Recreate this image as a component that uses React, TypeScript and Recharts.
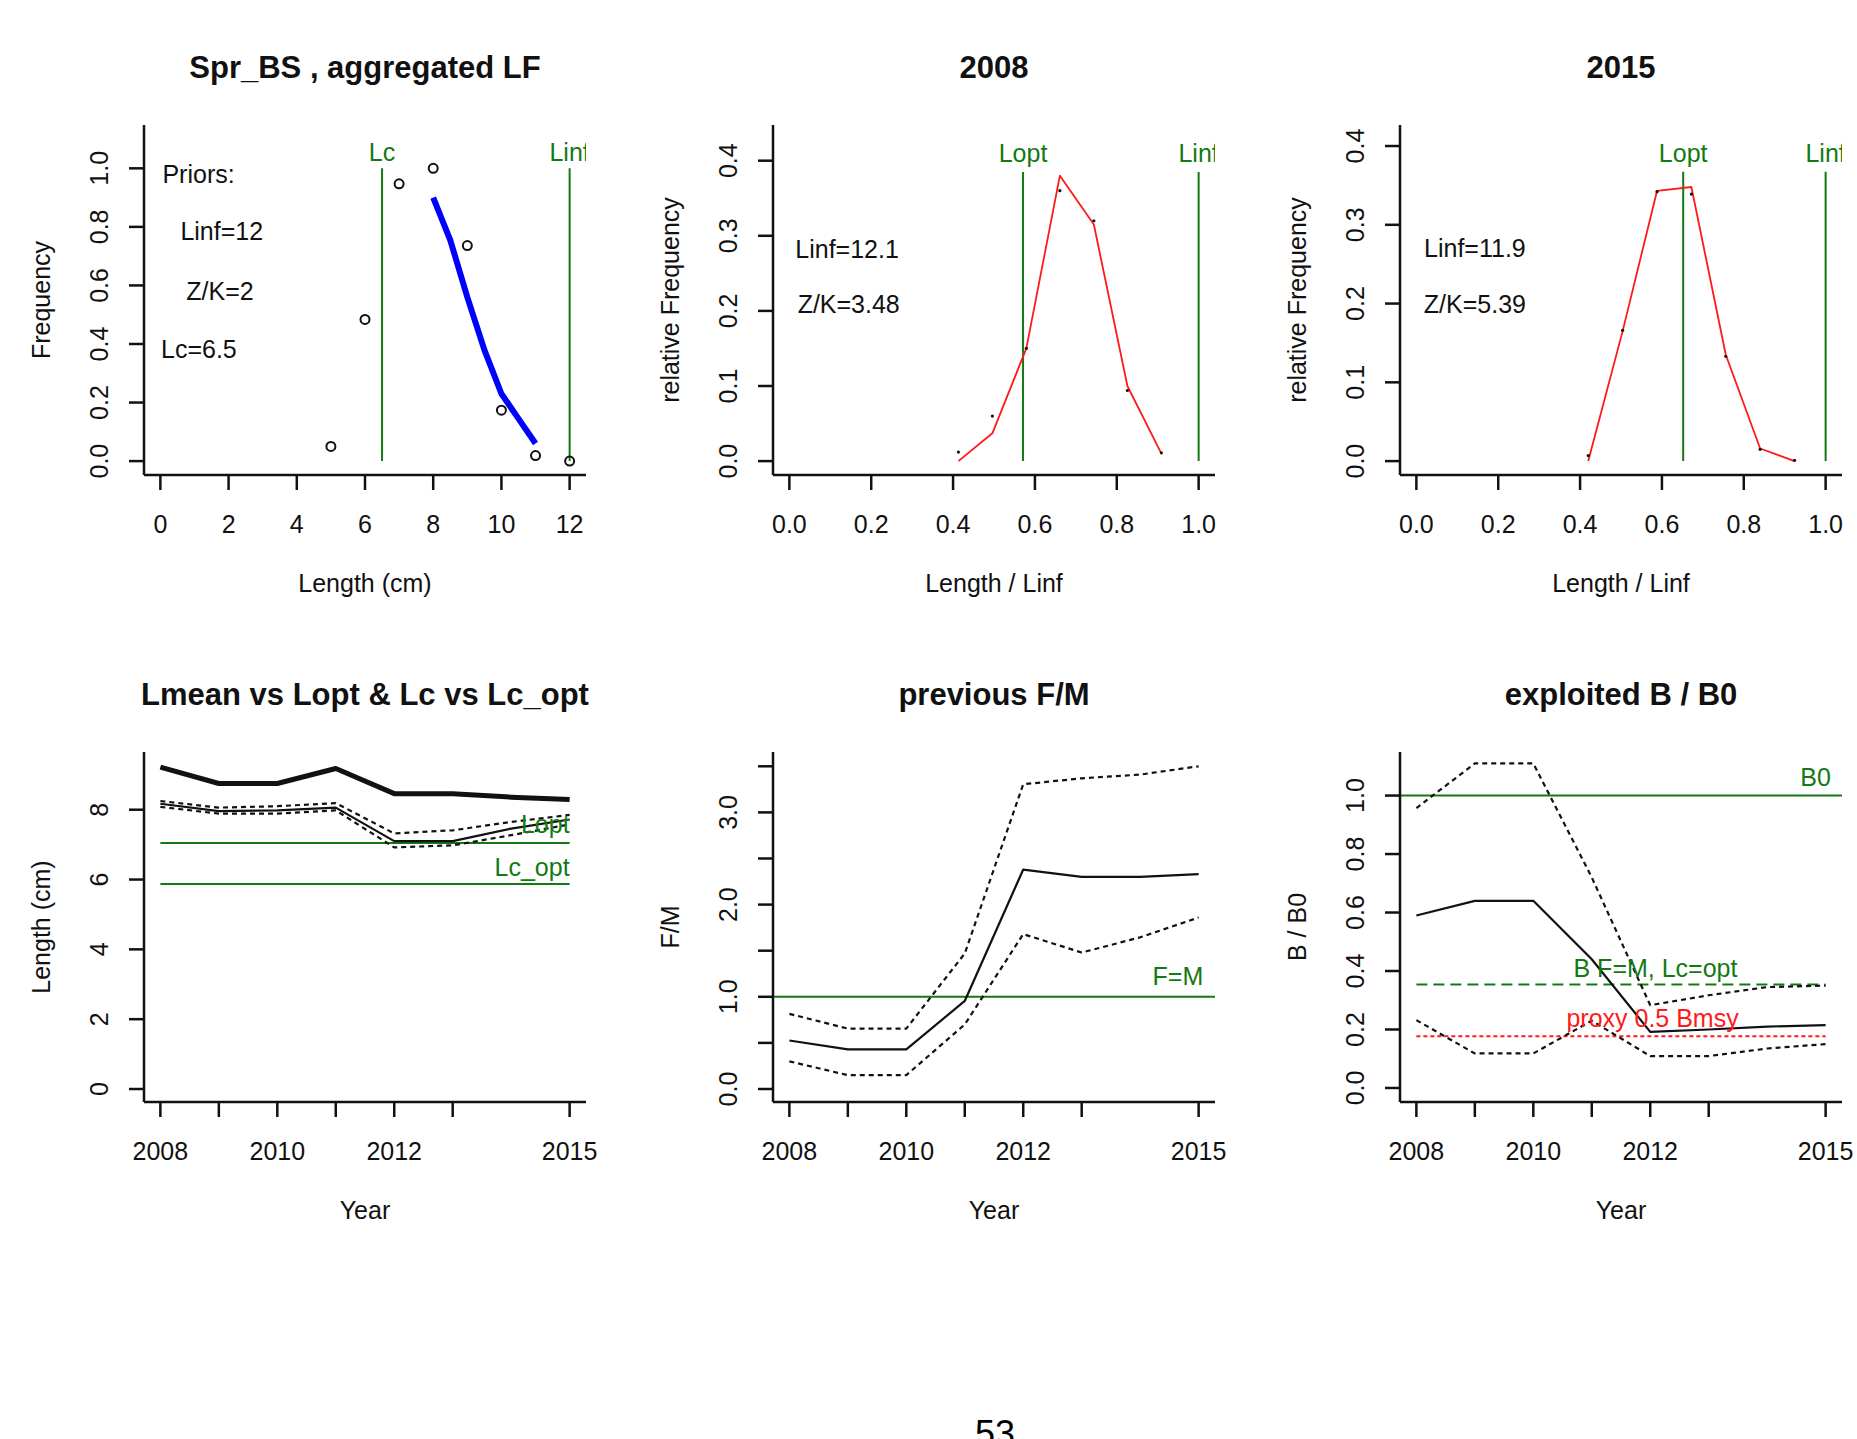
import React from 'react';
import { ComposedChart, Line, Scatter, XAxis, YAxis, ReferenceLine, ReferenceDot } from 'recharts';

const FONT = '"Liberation Sans", Arial, Helvetica, sans-serif';
const INK = '#111111';
const GREEN = '#137a13';
const RED = '#ff1a1a';
const BLUE = '#0000ff';

// ---- Spr_BS , aggregated LF
const lfLength = [5, 6, 7, 8, 9, 10, 11, 12];
const lfFreq = [0.05, 0.484, 0.947, 1.0, 0.736, 0.174, 0.019, 0.0];
const selLength = [8, 8.5, 9, 9.5, 10, 10.5, 11];
const selFreq = [0.9, 0.755, 0.56, 0.38, 0.23, 0.145, 0.06];
const lcPrior = 6.5;
const linfPrior = 12;

// ---- 2008 (length / Linf)
const rel2008 = [0.413, 0.496, 0.579, 0.661, 0.744, 0.826, 0.909];
const obs2008 = [0.012, 0.06, 0.15, 0.36, 0.32, 0.094, 0.011];
const fit2008 = [0.0, 0.037, 0.15, 0.38, 0.315, 0.1, 0.01];
const lopt2008 = 0.571;
const top2008 = 0.385;

// ---- 2015 (length / Linf)
const rel2015 = [0.42, 0.504, 0.588, 0.672, 0.756, 0.84, 0.924];
const obs2015 = [0.007, 0.166, 0.342, 0.339, 0.133, 0.015, 0.001];
const fit2015 = [0.0, 0.165, 0.343, 0.348, 0.135, 0.016, 0.0];
const lopt2015 = 0.652;
const top2015 = 0.3675;

// ---- time series
const years = [2008, 2009, 2010, 2011, 2012, 2013, 2014, 2015];
const yearTicks = [2008, 2009, 2010, 2011, 2012, 2013, 2015];
const yearLabels = [2008, 2010, 2012, 2015];

const lmean = [9.22, 8.75, 8.75, 9.18, 8.46, 8.46, 8.36, 8.29];
const lc = [8.17, 7.96, 7.98, 8.06, 7.1, 7.1, 7.46, 7.72];
const lcHi = [8.25, 8.06, 8.1, 8.19, 7.32, 7.41, 7.65, 7.85];
const lcLo = [8.08, 7.89, 7.89, 7.98, 6.92, 6.98, 7.27, 7.58];
const loptLen = 7.05;
const lcOptLen = 5.87;

const fm = [0.526, 0.43, 0.43, 0.955, 2.38, 2.3, 2.3, 2.33];
const fmHi = [0.815, 0.655, 0.655, 1.47, 3.305, 3.37, 3.41, 3.5];
const fmLo = [0.3, 0.15, 0.15, 0.7, 1.68, 1.48, 1.645, 1.86];

const bb0 = [0.59, 0.64, 0.64, 0.44, 0.192, 0.2, 0.21, 0.215];
const bb0Hi = [0.957, 1.11, 1.11, 0.72, 0.283, 0.317, 0.345, 0.35];
const bb0Lo = [0.232, 0.118, 0.118, 0.23, 0.109, 0.109, 0.135, 0.15];
const bFmLcOpt = 0.354;
const bmsyProxy = 0.177;

const pts = (xs: number[], ys: number[]) => xs.map((x, i) => ({ x, y: ys[i] }));
const seg = (x0: number, y0: number, x1: number, y1: number) => [{ x: x0, y: y0 }, { x: x1, y: y1 }];

const PAD_L = 150;
const W = 442;

const xTick = (shown: number[] | null, fmt: (v: number) => string) => (p: any) => {
  const v = p.payload.value;
  if (shown && !shown.includes(v)) return <g />;
  return (
    <text x={p.x} y={p.y} dy="0.71em" textAnchor="middle" fontSize={25} fontFamily={FONT} fill={INK}>
      {fmt(v)}
    </text>
  );
};

const yTick = (shown: number[] | null, fmt: (v: number) => string) => (p: any) => {
  const v = p.payload.value;
  if (shown && !shown.includes(v)) return <g />;
  return (
    <text transform={`rotate(-90 ${p.x} ${p.y})`} x={p.x} y={p.y} textAnchor="middle" fontSize={25} fontFamily={FONT} fill={INK}>
      {fmt(v)}
    </text>
  );
};

const note = (label: string, anchor: string, color = INK) => (p: any) => (
  <text x={p.cx} y={p.cy} dy="0.36em" textAnchor={anchor} fontSize={25} fontFamily={FONT} fill={color}>
    {label}
  </text>
);

// label cut at the right edge of the plot region, as R does with xpd = FALSE
const clippedNote = (id: string, label: string, color: string) => (p: any) => (
  <g>
    <defs>
      <clipPath id={id}>
        <rect x={0} y={0} width={PAD_L + W} height={1000} />
      </clipPath>
    </defs>
    <text x={p.cx} y={p.cy} dy="0.36em" textAnchor="middle" fontSize={25} fontFamily={FONT} fill={color} clipPath={`url(#${id})`}>
      {label}
    </text>
  </g>
);

const f1 = (v: number) => v.toFixed(1);
const f0 = (v: number) => String(v);

type Box = { l: number; t: number; w: number; h: number };

function Panel(props: {
  box: Box;
  xDomain: [number, number];
  xTicks: number[];
  xShown?: number[] | null;
  xFmt: (v: number) => string;
  yDomain: [number, number];
  yTicks: number[];
  yShown?: number[] | null;
  yFmt: (v: number) => string;
  children: React.ReactNode;
}) {
  const { box } = props;
  const padT = 10, padR = 20, padB = 80;
  const axisStyle = { stroke: INK, strokeWidth: 2.5 };
  return (
    <div style={{ position: 'absolute', left: box.l - PAD_L, top: box.t - padT }}>
      <ComposedChart
        width={box.w + PAD_L + padR}
        height={box.h + padT + padB}
        margin={{ top: padT, right: padR, bottom: 0, left: 0 }}
      >
        <XAxis
          type="number"
          dataKey="x"
          domain={props.xDomain}
          ticks={props.xTicks}
          interval={0}
          allowDataOverflow
          height={padB}
          tickSize={15}
          tickMargin={25}
          axisLine={axisStyle}
          tickLine={axisStyle}
          tick={xTick(props.xShown ?? null, props.xFmt)}
        />
        <YAxis
          type="number"
          dataKey="y"
          domain={props.yDomain}
          ticks={props.yTicks}
          interval={0}
          allowDataOverflow
          width={PAD_L}
          tickSize={15}
          tickMargin={21}
          axisLine={axisStyle}
          tickLine={axisStyle}
          tick={yTick(props.yShown ?? null, props.yFmt)}
        />
        {props.children}
      </ComposedChart>
    </div>
  );
}

const solid = (data: any[], color: string, width: number, dash?: string) => (
  <Line
    data={data}
    dataKey="y"
    stroke={color}
    strokeWidth={width}
    strokeDasharray={dash}
    dot={false}
    activeDot={false}
    isAnimationActive={false}
    strokeLinejoin="round"
  />
);

const openCircle = (p: any) => <circle cx={p.cx} cy={p.cy} r={4.5} fill="none" stroke={INK} strokeWidth={2} />;
const smallDot = (p: any) => <circle cx={p.cx} cy={p.cy} r={1.6} fill={INK} />;

const boxes: Box[] = [
  { l: 144, t: 125, w: W, h: 350 },
  { l: 773, t: 125, w: W, h: 350 },
  { l: 1400, t: 125, w: W, h: 350 },
  { l: 144, t: 752, w: W, h: 350 },
  { l: 773, t: 752, w: W, h: 350 },
  { l: 1400, t: 752, w: W, h: 350 },
];

const yearDomain: [number, number] = [2007.72, 2015.28];
const DOT = '5 4';
const THIN = 2.2;

export default function App() {
  const titles = [
    'Spr_BS , aggregated LF',
    '2008',
    '2015',
    'Lmean vs Lopt & Lc vs Lc_opt',
    'previous F/M',
    'exploited B / B0',
  ];
  const xTitles = ['Length (cm)', 'Length / Linf', 'Length / Linf', 'Year', 'Year', 'Year'];
  const yTitles = ['Frequency', 'relative Frequency', 'relative Frequency', 'Length (cm)', 'F/M', 'B / B0'];

  return (
    <div style={{ position: 'absolute', left: 0, top: 0, width: 1857, height: 1439, overflow: 'hidden', background: '#fff' }}>
      {/* Spr_BS , aggregated LF */}
      <Panel
        box={boxes[0]}
        xDomain={[-0.48, 12.48]}
        xTicks={[0, 2, 4, 6, 8, 10, 12]}
        xFmt={f0}
        yDomain={[-0.0475, 1.148]}
        yTicks={[0, 0.2, 0.4, 0.6, 0.8, 1.0]}
        yFmt={f1}
      >
        <ReferenceDot x={1.12} y={0.981} r={0} ifOverflow="visible" shape={note('Priors:', 'middle')} />
        <ReferenceDot x={1.8} y={0.787} r={0} ifOverflow="visible" shape={note('Linf=12', 'middle')} />
        <ReferenceDot x={1.75} y={0.582} r={0} ifOverflow="visible" shape={note('Z/K=2', 'middle')} />
        <ReferenceDot x={1.13} y={0.384} r={0} ifOverflow="visible" shape={note('Lc=6.5', 'middle')} />
        <ReferenceDot x={lcPrior} y={1.056} r={0} ifOverflow="visible" shape={note('Lc', 'middle', GREEN)} />
        <ReferenceDot x={linfPrior} y={1.056} r={0} ifOverflow="visible" shape={clippedNote('clipLinf1', 'Linf', GREEN)} />
        {solid(seg(lcPrior, 0, lcPrior, 1), GREEN, 2)}
        {solid(seg(linfPrior, 0, linfPrior, 1), GREEN, 2)}
        {solid(pts(selLength, selFreq), BLUE, 6)}
        <Scatter data={pts(lfLength, lfFreq)} shape={openCircle} isAnimationActive={false} />
      </Panel>

      {/* 2008 */}
      <Panel
        box={boxes[1]}
        xDomain={[-0.04, 1.04]}
        xTicks={[0, 0.2, 0.4, 0.6, 0.8, 1.0]}
        xFmt={f1}
        yDomain={[-0.0185, 0.4475]}
        yTicks={[0, 0.1, 0.2, 0.3, 0.4]}
        yFmt={f1}
      >
        <ReferenceDot x={0.141} y={0.283} r={0} ifOverflow="visible" shape={note('Linf=12.1', 'middle')} />
        <ReferenceDot x={0.145} y={0.209} r={0} ifOverflow="visible" shape={note('Z/K=3.48', 'middle')} />
        <ReferenceDot x={lopt2008} y={0.41} r={0} ifOverflow="visible" shape={note('Lopt', 'middle', GREEN)} />
        <ReferenceDot x={1.0} y={0.41} r={0} ifOverflow="visible" shape={clippedNote('clipLinf2', 'Linf', GREEN)} />
        {solid(seg(lopt2008, 0, lopt2008, top2008), GREEN, 2)}
        {solid(seg(1.0, 0, 1.0, top2008), GREEN, 2)}
        {solid(pts(rel2008, fit2008), RED, 1.8)}
        <Scatter data={pts(rel2008, obs2008)} shape={smallDot} isAnimationActive={false} />
      </Panel>

      {/* 2015 */}
      <Panel
        box={boxes[2]}
        xDomain={[-0.04, 1.04]}
        xTicks={[0, 0.2, 0.4, 0.6, 0.8, 1.0]}
        xFmt={f1}
        yDomain={[-0.01765, 0.4267]}
        yTicks={[0, 0.1, 0.2, 0.3, 0.4]}
        yFmt={f1}
      >
        <ReferenceDot x={0.143} y={0.27} r={0} ifOverflow="visible" shape={note('Linf=11.9', 'middle')} />
        <ReferenceDot x={0.143} y={0.2} r={0} ifOverflow="visible" shape={note('Z/K=5.39', 'middle')} />
        <ReferenceDot x={lopt2015} y={0.391} r={0} ifOverflow="visible" shape={note('Lopt', 'middle', GREEN)} />
        <ReferenceDot x={1.0} y={0.391} r={0} ifOverflow="visible" shape={clippedNote('clipLinf3', 'Linf', GREEN)} />
        {solid(seg(lopt2015, 0, lopt2015, top2015), GREEN, 2)}
        {solid(seg(1.0, 0, 1.0, top2015), GREEN, 2)}
        {solid(pts(rel2015, fit2015), RED, 1.8)}
        <Scatter data={pts(rel2015, obs2015)} shape={smallDot} isAnimationActive={false} />
      </Panel>

      {/* Lmean vs Lopt & Lc vs Lc_opt */}
      <Panel
        box={boxes[3]}
        xDomain={yearDomain}
        xTicks={yearTicks}
        xShown={yearLabels}
        xFmt={f0}
        yDomain={[-0.372, 9.653]}
        yTicks={[0, 2, 4, 6, 8]}
        yFmt={f0}
      >
        <ReferenceDot x={2015} y={7.6} r={0} ifOverflow="visible" shape={note('Lopt', 'end', GREEN)} />
        <ReferenceDot x={2015} y={6.36} r={0} ifOverflow="visible" shape={note('Lc_opt', 'end', GREEN)} />
        {solid(seg(2008, loptLen, 2015, loptLen), GREEN, 2)}
        {solid(seg(2008, lcOptLen, 2015, lcOptLen), GREEN, 2)}
        {solid(pts(years, lmean), INK, 5)}
        {solid(pts(years, lc), INK, THIN)}
        {solid(pts(years, lcHi), INK, THIN, DOT)}
        {solid(pts(years, lcLo), INK, THIN, DOT)}
      </Panel>

      {/* previous F/M */}
      <Panel
        box={boxes[4]}
        xDomain={yearDomain}
        xTicks={yearTicks}
        xShown={yearLabels}
        xFmt={f0}
        yDomain={[-0.141, 3.655]}
        yTicks={[0, 0.5, 1, 1.5, 2, 2.5, 3, 3.5]}
        yShown={[0, 1, 2, 3]}
        yFmt={f1}
      >
        <ReferenceLine y={1} stroke={GREEN} strokeWidth={2} ifOverflow="visible" />
        <ReferenceDot x={2015.08} y={1.23} r={0} ifOverflow="visible" shape={note('F=M', 'end', GREEN)} />
        {solid(pts(years, fm), INK, THIN)}
        {solid(pts(years, fmHi), INK, THIN, DOT)}
        {solid(pts(years, fmLo), INK, THIN, DOT)}
      </Panel>

      {/* exploited B / B0 */}
      <Panel
        box={boxes[5]}
        xDomain={yearDomain}
        xTicks={yearTicks}
        xShown={yearLabels}
        xFmt={f0}
        yDomain={[-0.048, 1.149]}
        yTicks={[0, 0.2, 0.4, 0.6, 0.8, 1.0]}
        yFmt={f1}
      >
        <ReferenceLine y={1} stroke={GREEN} strokeWidth={2} ifOverflow="visible" />
        <ReferenceDot x={2015.09} y={1.064} r={0} ifOverflow="visible" shape={note('B0', 'end', GREEN)} />
        <ReferenceDot x={2012.09} y={0.41} r={0} ifOverflow="visible" shape={note('B F=M, Lc=opt', 'middle', GREEN)} />
        <ReferenceDot x={2012.04} y={0.24} r={0} ifOverflow="visible" shape={note('proxy 0.5 Bmsy', 'middle', RED)} />
        {solid(seg(2008, bFmLcOpt, 2015, bFmLcOpt), GREEN, 2, '11 6')}
        {solid(seg(2008, bmsyProxy, 2015, bmsyProxy), RED, 2, '4 3')}
        {solid(pts(years, bb0), INK, THIN)}
        {solid(pts(years, bb0Hi), INK, THIN, DOT)}
        {solid(pts(years, bb0Lo), INK, THIN, DOT)}
      </Panel>

      <svg width={1857} height={1439} style={{ position: 'absolute', left: 0, top: 0, pointerEvents: 'none' }}>
        {boxes.map((b, i) => (
          <g key={i} fontFamily={FONT} fill={INK}>
            <text x={b.l + b.w / 2} y={b.t - 47.5} textAnchor="middle" fontSize={31} fontWeight="bold">
              {titles[i]}
            </text>
            <text x={b.l + b.w / 2} y={b.t + b.h + 117} textAnchor="middle" fontSize={25}>
              {xTitles[i]}
            </text>
            <text
              x={b.l - 94}
              y={b.t + b.h / 2}
              transform={`rotate(-90 ${b.l - 94} ${b.t + b.h / 2})`}
              textAnchor="middle"
              fontSize={25}
            >
              {yTitles[i]}
            </text>
          </g>
        ))}
        <text x={995} y={1446} textAnchor="middle" fontSize={36} fontFamily={FONT} fill="#000">
          53
        </text>
      </svg>
    </div>
  );
}
